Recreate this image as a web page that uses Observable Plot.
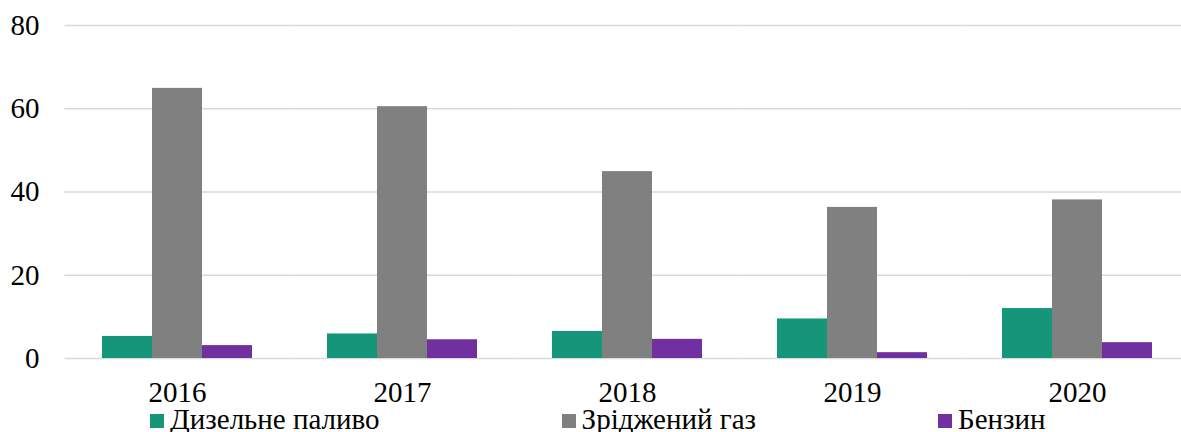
<!DOCTYPE html>
<html>
<head>
<meta charset="utf-8">
<script src="https://cdn.jsdelivr.net/npm/d3@7"></script>
<script src="https://cdn.jsdelivr.net/npm/@observablehq/plot@0.6"></script>
<style>
  html, body { margin: 0; padding: 0; background: #fff; }
  #chart { width: 1181px; height: 432px; overflow: hidden; position: relative; }
  .legend { display: flex; margin-left: 150px; gap: 182px; font-family: "Liberation Serif", "Times New Roman", serif; font-size: 29px; line-height: 28px; color: #000; white-space: nowrap; }
  .legend .item { display: flex; align-items: center; }
  .legend .sw { width: 14px; height: 14px; margin-right: 6px; margin-top: 4px; }
</style>
</head>
<body>
<div id="chart"></div>
<script>
const years = ["2016", "2017", "2018", "2019", "2020"];
const series = ["Дизельне паливо", "Зріджений газ", "Бензин"];
const colors = ["#169679", "#808080", "#7030A0"];
const diesel = [5.3, 5.9, 6.5, 9.5, 12.0];
const lpg = [64.9, 60.5, 44.9, 36.3, 38.1];
const petrol = [3.1, 4.5, 4.6, 1.4, 3.8];
const yTicks = [0, 20, 40, 60, 80];

const values = [diesel, lpg, petrol];
const data = [];
years.forEach((yr, i) => series.forEach((s, j) => data.push({year: yr, series: s, value: values[j][i]})));

const plot = Plot.plot({
  width: 1181,
  height: 405,
  marginLeft: 64.5,
  marginRight: -8.5,
  marginTop: 25,
  marginBottom: 47,
  style: {fontFamily: "'Liberation Serif', 'Times New Roman', serif", fontSize: "29px", color: "#000", background: "#fff", overflow: "visible"},
  facet: {data, x: "year"},
  fx: {domain: years, paddingInner: 1/3, paddingOuter: 1/6, round: false, axis: "bottom", tickSize: 0, tickPadding: 23, label: null},
  x: {domain: series, padding: 0, round: false, axis: null},
  y: {domain: [0, 80], ticks: yTicks, tickSize: 0, tickPadding: 63, label: null},
  color: {domain: series, range: colors},
  marks: [
    Plot.ruleY(yTicks, {stroke: "#d9d9d9", strokeWidth: 1.5, insetLeft: -37.5, insetRight: -37.5}),
    Plot.barY(data, {x: "series", y: "value", fill: "series"})
  ]
});
document.getElementById("chart").appendChild(plot);

const legend = document.createElement("div");
legend.className = "legend";
series.forEach((s, j) => {
  const it = document.createElement("div");
  it.className = "item";
  const sw = document.createElement("span");
  sw.className = "sw";
  sw.style.background = colors[j];
  const t = document.createElement("span");
  t.textContent = s;
  it.appendChild(sw);
  it.appendChild(t);
  legend.appendChild(it);
});
document.getElementById("chart").appendChild(legend);
</script>
</body>
</html>
